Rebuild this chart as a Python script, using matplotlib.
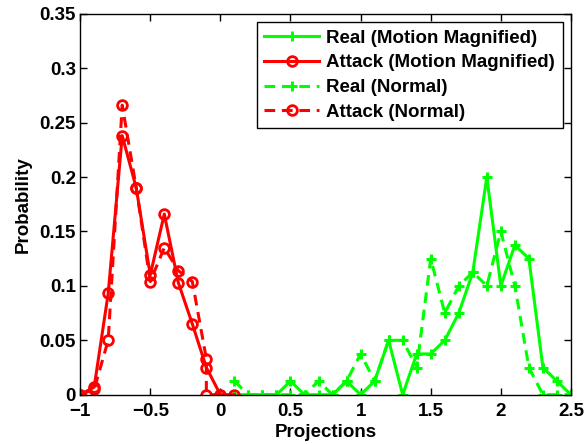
import numpy as np
import matplotlib.pyplot as plt

plt.rcParams['font.family'] = ['Liberation Sans', 'DejaVu Sans']
plt.rcParams['font.weight'] = 'bold'

# Real (Motion Magnified)
x_real_mm = [0.1, 0.2, 0.3, 0.4, 0.5, 0.6, 0.7, 0.8, 0.9, 1.0, 1.1, 1.2, 1.3,
             1.4, 1.5, 1.6, 1.7, 1.8, 1.9, 2.0, 2.1, 2.2, 2.3, 2.4, 2.5]
y_real_mm = [0, 0, 0, 0, 0.0125, 0, 0, 0, 0.0125, 0, 0.0125, 0.05, 0,
             0.0375, 0.0375, 0.05, 0.075, 0.1125, 0.2, 0.1, 0.1375, 0.125, 0.025, 0.0125, 0]

# Attack (Motion Magnified)
x_att_mm = [-1.0, -0.9, -0.8, -0.7, -0.6, -0.5, -0.4, -0.3, -0.2, -0.1, 0.0, 0.1]
y_att_mm = [0, 0.007, 0.093, 0.238, 0.19, 0.11, 0.166, 0.103, 0.065, 0.025, 0, 0]

# Real (Normal)
x_real_n = [0.1, 0.2, 0.3, 0.4, 0.5, 0.6, 0.7, 0.8, 0.9, 1.0, 1.1, 1.2, 1.3,
            1.4, 1.5, 1.6, 1.7, 1.8, 1.9, 2.0, 2.1, 2.2, 2.3, 2.4, 2.5]
y_real_n = [0.0125, 0, 0, 0, 0, 0, 0.0125, 0, 0.0125, 0.0375, 0.0125, 0.05, 0.05,
            0.025, 0.125, 0.075, 0.1, 0.1125, 0.1, 0.15, 0.1, 0.025, 0, 0, 0]

# Attack (Normal)
x_att_n = [-1.0, -0.9, -0.8, -0.7, -0.6, -0.5, -0.4, -0.3, -0.2, -0.1, -0.1, 0.0]
y_att_n = [0, 0.005, 0.05, 0.266, 0.19, 0.104, 0.135, 0.114, 0.104, 0.033, 0, 0]

fig = plt.figure(figsize=(5.85, 4.44), dpi=100)
ax = fig.add_axes([0.137, 0.111, 0.839, 0.858])

lw = 2.2
dash = (0, (3.5, 2.2))
ax.plot(x_real_mm, y_real_mm, color=(0, 1, 0), lw=lw, marker='+', ms=7.5, mew=2.2,
        label='Real (Motion Magnified)')
ax.plot(x_att_mm, y_att_mm, color=(1, 0, 0), lw=lw, marker='o', ms=7, mew=2,
        mfc='none', label='Attack (Motion Magnified)')
ax.plot(x_real_n, y_real_n, color=(0, 1, 0), lw=lw, ls=dash, marker='+', ms=7.5, mew=2.2,
        label='Real (Normal)')
ax.plot(x_att_n, y_att_n, color=(1, 0, 0), lw=lw, ls=dash, marker='o', ms=7, mew=2,
        mfc='none', label='Attack (Normal)')

ax.set_xlim(-1, 2.5)
ax.set_ylim(0, 0.35)
ax.set_xticks(np.arange(-1, 2.51, 0.5))
ax.set_xticklabels(['\u22121', '\u22120.5', '0', '0.5', '1', '1.5', '2', '2.5'])
ax.set_yticks(np.arange(0, 0.351, 0.05))
ax.set_yticklabels(['0', '0.05', '0.1', '0.15', '0.2', '0.25', '0.3', '0.35'])
ax.tick_params(direction='in', top=True, right=True, length=5, width=1,
               labelsize=13.5)
ax.tick_params(axis='x', pad=6)
ax.tick_params(axis='y', pad=3)
for s in ax.spines.values():
    s.set_linewidth(1)

ax.set_xlabel('Projections', fontsize=13.5, fontweight='bold', labelpad=3)
ax.set_ylabel('Probability', fontsize=13.5, fontweight='bold', labelpad=6)

leg = ax.legend(loc='upper right', fontsize=13.5, fancybox=False, framealpha=1,
                edgecolor='black', handlelength=2.9, borderaxespad=0.45,
                labelspacing=0.4, borderpad=0.4, handletextpad=0.4)
leg.get_frame().set_linewidth(1)

fig.savefig('out.png', dpi=100)
